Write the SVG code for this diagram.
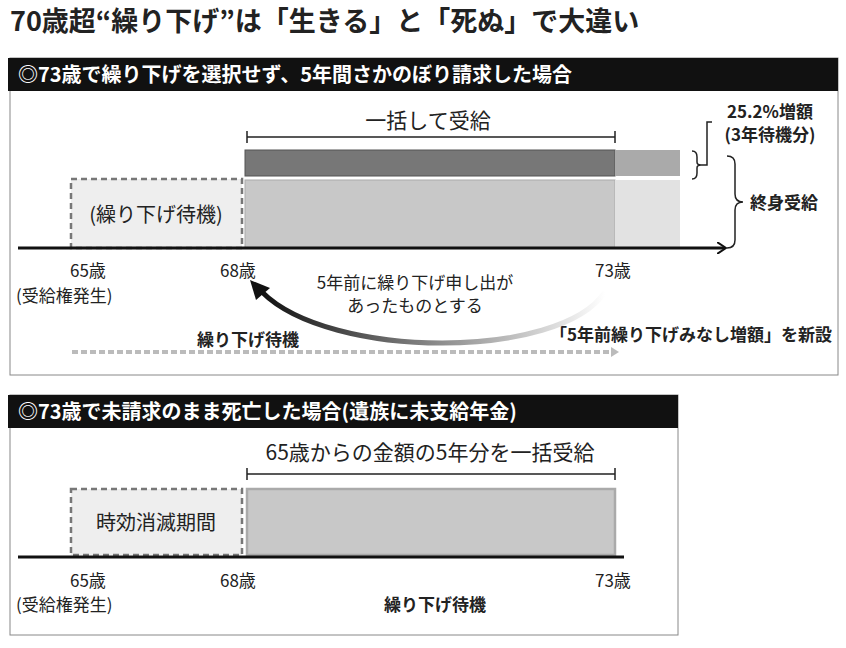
<svg xmlns="http://www.w3.org/2000/svg" width="846" height="648" viewBox="0 0 846 648">
<defs>
<style>
text{font-family:"Noto Sans CJK JP","Noto Sans",sans-serif;fill:#222}
.b{font-weight:bold}
.hd{fill:#fff;font-size:20px;font-weight:bold}
.lbl{font-size:17px}
.dash{fill:#eee;stroke:#777;stroke-width:2.5;stroke-dasharray:6 4}
.dot{stroke:#bbb;stroke-width:4;stroke-dasharray:6 3;fill:none}
</style>
<linearGradient id="g" x1="1" y1="0" x2="0" y2="0"><stop offset="0" stop-color="#fff"/><stop offset="1" stop-color="#111"/></linearGradient>
<marker id="ah" markerWidth="10" markerHeight="12" refX="8" refY="6" orient="auto" markerUnits="userSpaceOnUse"><path d="M0,0 L9,6 L0,12" fill="none" stroke="#111" stroke-width="2"/></marker>
<marker id="gh" markerWidth="8" markerHeight="10" refX="4" refY="5" orient="auto" markerUnits="userSpaceOnUse"><path d="M0,0 L8,5 L0,10Z" fill="#bbb"/></marker>
</defs>
<rect width="846" height="648" fill="#fff"/>
<text x="10" y="31" class="b" font-size="27">70歳超“繰り下げ”は「生きる」と「死ぬ」で大違い</text>

<g id="panel1">
<rect x="10" y="58" width="828" height="317" fill="#fff" stroke="#888"/>
<rect x="8" y="58" width="830" height="33" fill="#111"/>
<text x="18" y="82" class="hd">◎73歳で繰り下げを選択せず、5年間さかのぼり請求した場合</text>
</g>
<g id="bars1">
<rect x="245" y="150" width="370" height="26" fill="#777" stroke="#555"/>
<rect x="615" y="150" width="65" height="26" fill="#aaa"/>
<rect x="245" y="180" width="370" height="68" fill="#c8c8c8" stroke="#aaa"/>
<rect x="615" y="180" width="65" height="68" fill="#e2e2e2"/>
<rect x="71" y="179" width="171" height="69" class="dash"/>
<text x="156" y="222" text-anchor="middle" font-size="20">(繰り下げ待機)</text>
<text x="428" y="128" text-anchor="middle" font-size="21">一括して受給</text>
<path d="M247,137 H615 M247,131 V143 M615,131 V143" stroke="#222" stroke-width="1.5" fill="none"/>
</g>
<g id="braces1">
<path d="M692,151 q5,0 5,6 v5 q0,3 4,3 q-4,0 -4,3 v5 q0,6 -5,6" fill="none" stroke="#222" stroke-width="1.5"/>
<path d="M701,165 H707 V122 H712" fill="none" stroke="#222" stroke-width="1.5"/>
<text x="770" y="118" text-anchor="middle" class="b" font-size="17">25.2%増額</text>
<text x="770" y="141" text-anchor="middle" class="b" font-size="17">(3年待機分)</text>
<path d="M727,156 q8,0 8,8 v30 q0,8 8,8 q-8,0 -8,8 v30 q0,8 -8,8" fill="none" stroke="#222" stroke-width="1.5"/>
<text x="750" y="209" class="b" font-size="17">終身受給</text>
</g>
<g id="axis1">
<path d="M18,248 H725" stroke="#111" stroke-width="3" marker-end="url(#ah)"/>
<text x="70" y="277" class="lbl">65歳</text>
<text x="16" y="302" class="lbl">(受給権発生)</text>
<text x="220" y="277" class="lbl">68歳</text>
<text x="595" y="277" class="lbl">73歳</text>
<text x="415" y="289" text-anchor="middle" class="lbl">5年前に繰り下げ申し出が</text>
<text x="415" y="312" text-anchor="middle" class="lbl">あったものとする</text>
<text x="197" y="346" class="b" font-size="17">繰り下げ待機</text>
<text x="832" y="341" text-anchor="end" class="b" font-size="17">「5年前繰り下げみなし増額」を新設</text>
</g>
<g id="connectors">
<path d="M605,292 C560,360 330,360 262,292" fill="none" stroke="url(#g)" stroke-width="5"/>
<path d="M250,280 L270,288 L256,300 Z" fill="#111"/>
<path d="M72,352 H615" class="dot" marker-end="url(#gh)"/>
<path d="M72,622 H615" class="dot" marker-end="url(#gh)"/>
</g>

<g id="panel2">
<rect x="10" y="395" width="668" height="240" fill="#fff" stroke="#888"/>
<rect x="8" y="395" width="670" height="33" fill="#111"/>
<text x="18" y="419" class="hd">◎73歳で未請求のまま死亡した場合(遺族に未支給年金)</text>
<text x="430" y="460" text-anchor="middle" font-size="21">65歳からの金額の5年分を一括受給</text>
<path d="M247,474 H615 M247,468 V480 M615,468 V480" stroke="#222" stroke-width="1.5" fill="none"/>
<rect x="247" y="489" width="368" height="66" fill="#c8c8c8" stroke="#aaa" stroke-width="2.5"/>
<rect x="71" y="489" width="171" height="66" class="dash"/>
<text x="156" y="530" text-anchor="middle" font-size="20">時効消滅期間</text>
<path d="M18,557 H624" stroke="#111" stroke-width="3"/>
<text x="70" y="587" class="lbl">65歳</text>
<text x="16" y="611" class="lbl">(受給権発生)</text>
<text x="220" y="587" class="lbl">68歳</text>
<text x="595" y="587" class="lbl">73歳</text>
<text x="435" y="611" text-anchor="middle" class="b" font-size="17">繰り下げ待機</text>
</g>
</svg>
